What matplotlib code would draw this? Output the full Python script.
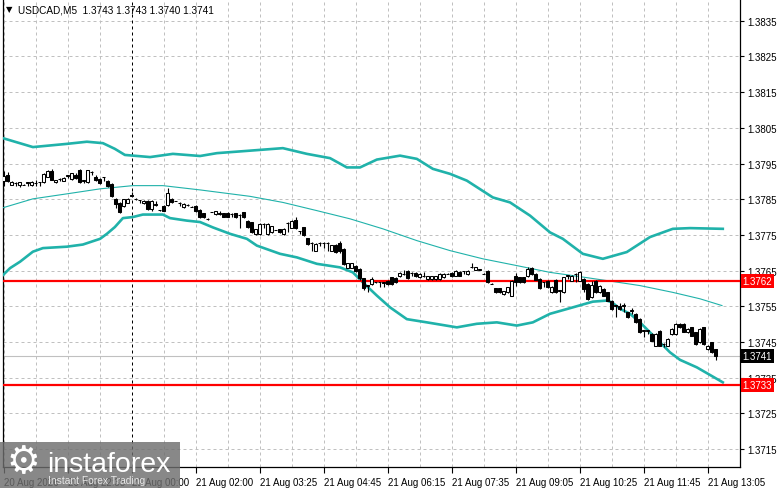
import matplotlib
matplotlib.use('Agg')
import numpy as np
import matplotlib.pyplot as plt
from matplotlib.patches import Rectangle
from matplotlib.transforms import blended_transform_factory

plt.rcParams['font.family'] = ['Liberation Sans', 'DejaVu Sans']

# bar prices are in points (0.00001) above BASE
BASE = 1.37
bar_open = [900, 917, 891, 896, 890, 891, 896, 890, 895, 897,
            898, 913, 930, 898, 907, 902, 916, 907, 918, 931,
            900, 898, 926, 913, 907, 912, 900, 893, 851, 838,
            831, 840, 862, 851, 848, 838, 845, 822, 836, 820,
            832, 834, 851, 845, 839, 828, 834, 829, 831, 820,
            811, 795, 814, 808, 810, 811, 812, 808, 810, 806,
            813, 790, 785, 752, 752, 780, 752, 758, 764, 766,
            752, 783, 770, 792, 761, 771, 740, 728, 706, 728,
            728, 728, 706, 722, 728, 710, 658, 658, 663, 654,
            628, 608, 613, 617, 617, 617, 622, 631, 630, 634,
            641, 650, 643, 643, 632, 635, 626, 626, 626, 627,
            632, 641, 643, 636, 647, 648, 641, 660, 653, 653,
            641, 650, 613, 601, 601, 585, 590, 580, 636, 631,
            631, 636, 657, 641, 627, 617, 622, 589, 625, 594,
            590, 636, 622, 641, 622, 627, 613, 575, 622, 589,
            599, 589, 566, 552, 552, 552, 533, 538, 528, 514,
            482, 482, 472, 440, 482, 444, 440, 472, 472, 500,
            500, 477, 491, 477, 449, 491, 430, 449, 430]
bar_high = [928, 926, 900, 897, 899, 892, 898, 900, 905, 898,
            923, 933, 935, 905, 908, 911, 918, 924, 924, 934,
            905, 933, 928, 918, 909, 913, 903, 895, 852, 842,
            851, 852, 870, 852, 849, 848, 847, 848, 845, 821,
            834, 880, 852, 846, 842, 840, 836, 830, 833, 822,
            812, 796, 815, 818, 818, 812, 813, 810, 812, 808,
            815, 792, 787, 767, 782, 782, 783, 776, 765, 767,
            768, 786, 793, 800, 762, 772, 742, 730, 726, 730,
            730, 730, 722, 724, 733, 712, 672, 672, 665, 656,
            630, 610, 632, 618, 619, 618, 623, 633, 632, 645,
            653, 652, 645, 645, 643, 645, 636, 636, 636, 643,
            643, 642, 645, 652, 649, 650, 651, 672, 660, 654,
            642, 652, 614, 602, 602, 594, 605, 624, 643, 633,
            633, 659, 659, 643, 629, 619, 624, 606, 627, 596,
            633, 638, 638, 644, 650, 629, 615, 622, 624, 610,
            601, 591, 568, 554, 560, 560, 535, 545, 530, 516,
            484, 484, 474, 474, 484, 446, 460, 488, 502, 502,
            502, 488, 493, 479, 488, 493, 442, 451, 430]
bar_low = [888, 898, 889, 888, 885, 889, 887, 888, 887, 888,
           896, 911, 903, 895, 900, 900, 908, 905, 906, 896,
           896, 896, 918, 901, 893, 900, 885, 855, 826, 812,
           828, 838, 859, 849, 840, 836, 820, 818, 832, 818,
           816, 830, 838, 844, 832, 826, 830, 828, 815, 797,
           796, 793, 813, 806, 807, 800, 799, 800, 798, 770,
           798, 768, 755, 750, 750, 768, 750, 756, 763, 755,
           750, 757, 768, 766, 752, 748, 722, 705, 704, 718,
           712, 705, 704, 700, 700, 665, 656, 656, 646, 625,
           596, 590, 611, 616, 603, 605, 611, 611, 616, 632,
           638, 627, 634, 632, 630, 632, 624, 624, 624, 625,
           630, 640, 632, 634, 634, 640, 639, 658, 652, 652,
           640, 615, 612, 587, 587, 583, 588, 578, 608, 615,
           615, 631, 639, 623, 598, 603, 601, 587, 588, 561,
           588, 627, 620, 617, 620, 589, 569, 573, 587, 587,
           578, 564, 540, 519, 540, 533, 517, 528, 503, 475,
           463, 472, 452, 438, 438, 435, 438, 470, 470, 489,
           477, 475, 466, 442, 447, 442, 428, 419, 400]
bar_close = [916, 902, 899, 896, 898, 890, 897, 898, 896, 897,
             921, 928, 905, 904, 907, 910, 916, 922, 910, 898,
             903, 931, 926, 903, 896, 912, 888, 858, 836, 815,
             850, 851, 860, 850, 848, 846, 822, 845, 834, 820,
             818, 866, 841, 845, 839, 837, 833, 829, 818, 800,
             799, 794, 814, 817, 809, 801, 801, 808, 800, 806,
             800, 771, 757, 766, 780, 780, 780, 774, 764, 757,
             766, 783, 790, 770, 761, 750, 724, 728, 724, 728,
             728, 727, 721, 702, 705, 668, 670, 670, 649, 628,
             600, 608, 627, 617, 617, 616, 613, 613, 618, 643,
             640, 629, 643, 634, 641, 634, 634, 634, 634, 641,
             641, 641, 634, 650, 636, 648, 649, 659, 659, 653,
             641, 617, 613, 589, 589, 592, 603, 622, 617, 617,
             617, 655, 641, 625, 600, 617, 603, 603, 590, 594,
             631, 636, 636, 641, 645, 599, 571, 610, 589, 608,
             580, 566, 542, 552, 542, 552, 519, 538, 505, 477,
             482, 482, 454, 472, 440, 444, 458, 486, 500, 491,
             479, 486, 468, 444, 486, 444, 440, 421, 410]

# Bollinger bands (bar position, price)
upper_pos = [-0.2, 7.3, 15.8, 20.8, 24.8, 27.8, 30.3, 36.6, 42.3, 49.1,
             53.3, 61.6, 69.8, 75.8, 81.6, 85.8, 89.1, 93.3, 99.1, 103.3,
             107.3, 111.6, 115.8, 122.3, 126.6, 131.6, 136.6, 139.8, 144.8, 149.8,
             155.8, 161.6, 167.3, 171.6, 179.8]
upper_val = [1.38021, 1.37996, 1.38005, 1.38011, 1.38007, 1.37991, 1.37974, 1.37968, 1.37977, 1.37971,
             1.37979, 1.37986, 1.37993, 1.37977, 1.37965, 1.37939, 1.37939, 1.37961, 1.37972, 1.37963,
             1.37935, 1.37921, 1.37902, 1.37855, 1.37841, 1.37804, 1.37757, 1.37739, 1.37697, 1.37683,
             1.37702, 1.37744, 1.37767, 1.37769, 1.37767]
mid_pos = [-0.5, 7.3, 15.8, 24.1, 32.3, 39.8, 49.1, 61.6, 69.8, 78.3,
           86.6, 94.8, 103.3, 111.6, 119.8, 128.3, 136.6, 142.3, 150.8, 159.1,
           167.3, 174.1, 179.6]
mid_val = [1.37825, 1.37851, 1.37865, 1.37879, 1.37888, 1.37888, 1.37876, 1.37858, 1.37841, 1.37818,
           1.37795, 1.37767, 1.37734, 1.37706, 1.37683, 1.37664, 1.37645, 1.37636, 1.37622, 1.37608,
           1.37589, 1.37571, 1.37552]
lower_pos = [-0.5, 1.6, 4.1, 7.3, 9.8, 15.8, 19.8, 24.1, 25.8, 27.8,
             29.8, 32.3, 34.8, 39.8, 41.6, 45.8, 49.1, 52.3, 56.6, 60.8,
             63.3, 69.1, 73.3, 78.3, 84.1, 87.3, 89.8, 93.3, 96.6, 100.8,
             105.8, 113.3, 118.3, 123.3, 128.3, 132.3, 136.6, 142.3, 147.3, 150.8,
             152.1, 154.1, 156.6, 159.1, 161.6, 164.1, 166.6, 169.1, 173.3, 179.8]
lower_val = [1.37634, 1.37657, 1.37675, 1.37703, 1.37713, 1.37717, 1.37723, 1.37739, 1.37753, 1.37772,
             1.37797, 1.37800, 1.37807, 1.37807, 1.37797, 1.37790, 1.37786, 1.37771, 1.37753, 1.37739,
             1.37720, 1.37697, 1.37687, 1.37669, 1.37659, 1.37645, 1.37617, 1.37580, 1.37547, 1.37514,
             1.37505, 1.37491, 1.37501, 1.37505, 1.37496, 1.37505, 1.37529, 1.37547, 1.37563, 1.37566,
             1.37561, 1.37543, 1.37529, 1.37505, 1.37477, 1.37449, 1.37421, 1.37400, 1.37379, 1.37337]

level_lines = [1.3762, 1.3733]
last_price = 1.3741
price_ticks = [1.3715, 1.3725, 1.3735, 1.3745, 1.3755, 1.3765, 1.3775,
               1.3785, 1.3795, 1.3805, 1.3815, 1.3825, 1.3835]
time_pos = [0, 16, 32, 48, 64, 80, 96, 112, 128, 144, 160, 176]
time_labels = ['20 Aug 2026', '20 Aug 22:35', '21 Aug 00:00', '21 Aug 02:00',
               '21 Aug 03:25', '21 Aug 04:45', '21 Aug 06:15', '21 Aug 07:35',
               '21 Aug 09:05', '21 Aug 10:25', '21 Aug 11:45', '21 Aug 13:05']
day_break = 32

W, H = 781, 489
fig = plt.figure(figsize=(W / 100, H / 100), dpi=100)
fig.patch.set_facecolor('white')
ax = fig.add_axes([2.7 / W, (H - 468.3) / H, (740 - 2.7) / W, (468.3 - 1) / H])
ax.set_facecolor('white')

teal = '#20B2AA'
grid_kw = dict(color='#C0C0C0', lw=0.72, ls=(0, (3, 3)), zorder=1)

# grid
for p in price_ticks:
    ax.axhline(p, **grid_kw)
for g in range(0, 185, 8):
    if g == day_break:
        ax.axvline(g, color='black', lw=0.72, ls=(0, (3, 3)), zorder=1)
    else:
        ax.axvline(g, **grid_kw)

# bands
ax.plot(upper_pos, upper_val, color=teal, lw=1.9, zorder=3, solid_joinstyle='round')
ax.plot(lower_pos, lower_val, color=teal, lw=1.9, zorder=3, solid_joinstyle='round')
ax.plot(mid_pos, mid_val, color=teal, lw=0.8, zorder=3)

# bid line and levels
ax.axhline(last_price, color='#C0C0C0', lw=0.8, zorder=2)
for lv in level_lines:
    ax.axhline(lv, color='#FF0000', lw=1.6, zorder=4)

# candles
o = np.array(bar_open) * 1e-5 + BASE
h = np.array(bar_high) * 1e-5 + BASE
l = np.array(bar_low) * 1e-5 + BASE
c = np.array(bar_close) * 1e-5 + BASE
x = np.arange(len(o))
ax.vlines(x, l, h, color='black', lw=0.8, zorder=5)
up = c >= o
bottom = np.minimum(o, c)
height = np.maximum(np.abs(c - o), 0.000005)
ax.bar(x[up], height[up], bottom=bottom[up], width=0.62, color='white',
       edgecolor='black', linewidth=0.75, zorder=6)
ax.bar(x[~up], height[~up], bottom=bottom[~up], width=0.62, color='black',
       edgecolor='black', linewidth=0.75, zorder=6)

ax.set_xlim(-0.25, 184.1)
ax.set_ylim(1.370990, 1.384080)

# axes cosmetics
for side in ['left', 'right', 'bottom']:
    ax.spines[side].set_color('black')
    ax.spines[side].set_linewidth(0.9)
ax.spines['top'].set_visible(False)
ax.yaxis.tick_right()
ax.set_yticks(price_ticks)
ax.set_yticklabels([f'{p:.4f}' for p in price_ticks])
ax.set_xticks(time_pos)
ax.set_xticklabels(time_labels)
ax.tick_params(axis='y', length=3, width=0.8, labelsize=7, pad=2.5, colors='black')
ax.tick_params(axis='x', length=4, width=0.8, labelsize=7, pad=3, colors='black')
for lab in ax.get_xticklabels():
    lab.set_horizontalalignment('left')

# price boxes on the right scale
tr = blended_transform_factory(ax.transAxes, ax.transData)
for lv in level_lines:
    ax.text(1.0035, lv, f'{lv:.4f}', transform=tr, ha='left', va='center',
            fontsize=7, color='white', clip_on=False, zorder=10,
            bbox=dict(facecolor='#FF0000', edgecolor='none', pad=1.5))
ax.text(1.0035, last_price, f'{last_price:.4f}', transform=tr, ha='left', va='center',
        fontsize=7, color='white', clip_on=False, zorder=10,
        bbox=dict(facecolor='black', edgecolor='none', pad=1.5))

# header
fig.text(9.5 / W, 1 - 10 / H, '\u25BC', fontsize=6, color='black', ha='center', va='center',
         family=['DejaVu Sans'])
fig.text(18 / W, 1 - 10.5 / H, 'USDCAD,M5  1.3743 1.3743 1.3740 1.3741', fontsize=7.2,
         color='black', ha='left', va='center')

# watermark
fig.patches.append(Rectangle((0, 0), 180 / W, 46 / H, transform=fig.transFigure,
                             facecolor='#6E6E6E', edgecolor='none', alpha=0.82, zorder=20))
fig.text(23 / W, 1 - 463 / H, '\u2699', fontsize=27, color='white', ha='center', va='center',
         family=['DejaVu Sans'], zorder=21)
fig.text(47 / W, 1 - 472 / H, 'instaforex', fontsize=20.5, color='white', ha='left',
         va='baseline', zorder=21)
fig.text(48 / W, 1 - 481 / H, 'Instant Forex Trading', fontsize=7.4, color='#E6E6E6',
         ha='left', va='center', zorder=21)

fig.savefig('out.png', dpi=100)
